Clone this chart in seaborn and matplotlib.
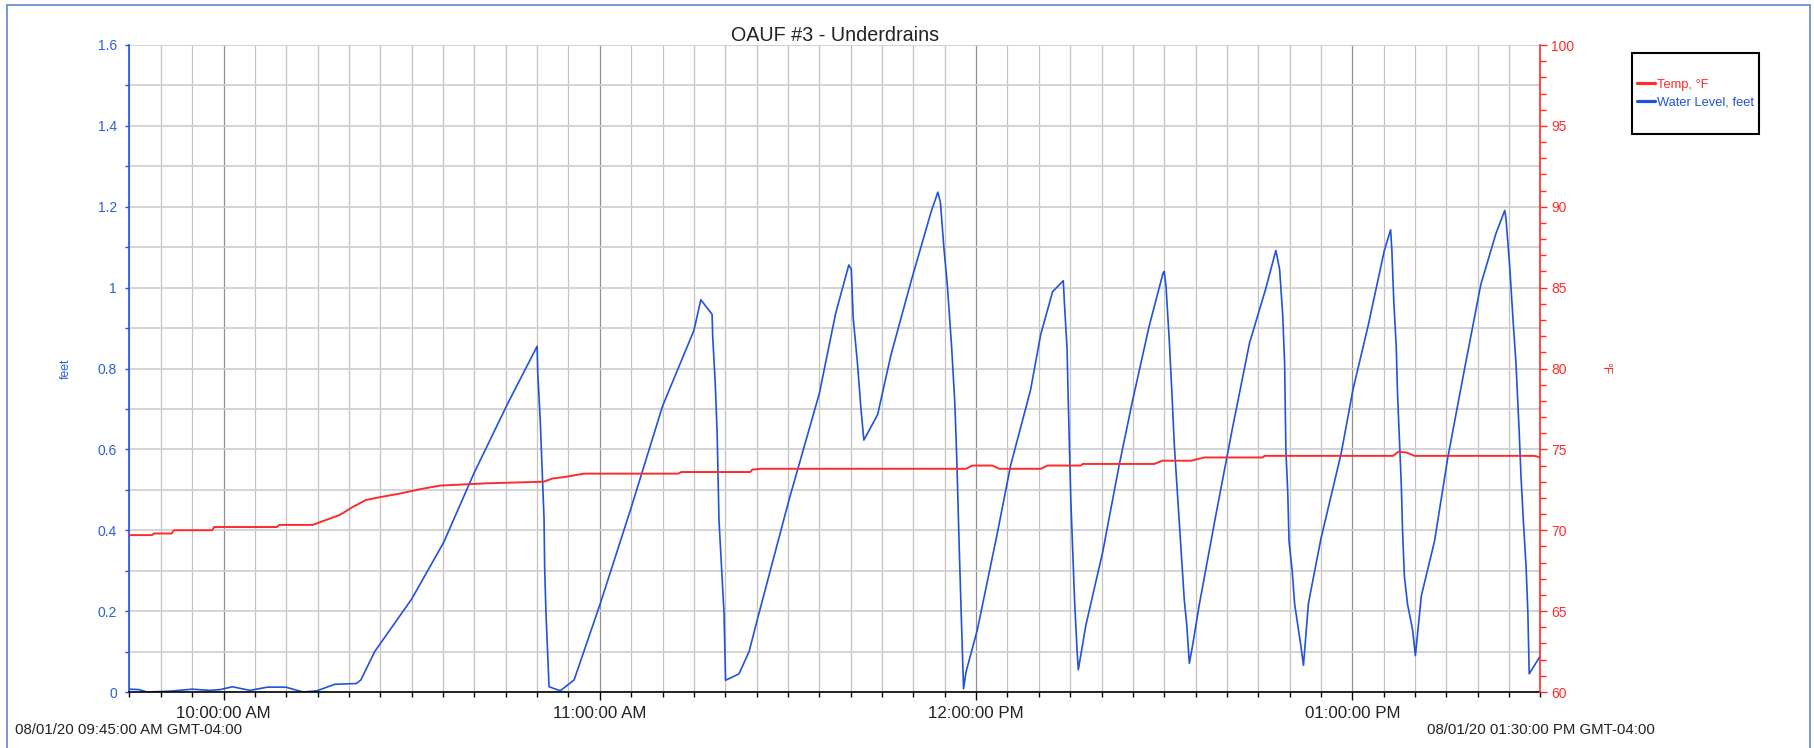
import matplotlib
matplotlib.use("Agg")
import matplotlib.pyplot as plt
import numpy as np
import pandas as pd
import seaborn as sns
from matplotlib.lines import Line2D
from matplotlib.patches import Rectangle
from matplotlib.ticker import MultipleLocator, FixedLocator, FuncFormatter

# ---------------- data (minutes after 09:45) ----------------
water_min = [
    0, 1.5, 2.8, 6.4, 10, 12.8, 14.5, 16.4, 19.2, 22, 24.9, 27.7, 29.9, 32.7, 36.2, 36.9, 39.1,
    45, 50.1, 54.9, 60.2, 65.0,
    65.1, 65.5, 65.8, 66.1, 66.2, 66.4, 66.9,
    68.7, 70.9, 75.1, 80, 85, 90, 91.1, 92.9,
    93.0, 93.4, 93.7, 94.0, 94.4, 94.8, 95.05,
    97.2, 98.8, 100.4, 105.2, 110, 112.6, 114.7,
    115.1, 115.4, 116.1, 116.6, 117.1,
    119.3, 121.4, 124.6, 127.8, 128.9,
    129.3, 129.9, 130.4, 131.1, 131.6, 131.9, 132.3, 132.6, 133.0,
    133.4, 135.2, 138.4, 140.5, 143.7, 145.3, 147.2, 148.9,
    149.1, 149.5, 149.7, 149.9, 150.1, 150.4, 150.7, 151.1, 151.3,
    152.5, 155.2, 157.8, 159.9, 162.6, 164.8, 165.0,
    165.3, 165.8, 166.2, 166.6, 167.1, 167.7, 168.2, 168.6, 169.0,
    169.5, 170.6, 173.2, 175.9, 178.6, 181.2, 182.8,
    183.4, 183.9, 184.2, 184.4, 184.7, 184.9, 185.4, 185.8, 186.3, 186.8, 187.2,
    188.0, 190.0, 193.2, 195.1, 197.5, 200.1, 201.1,
    201.3, 201.6, 202.0, 202.2, 202.5, 202.8, 203.0, 203.3, 203.8, 204.6, 205.05,
    206.0, 208.1, 210.2, 212.9, 215.5, 217.9, 219.3,
    219.5, 220.1, 220.6, 221.1, 221.6, 221.9, 222.3, 222.7, 222.98, 223.2,
    225.0,
]
water_ft = [
    0.007, 0.006, 0.0, 0.002, 0.007, 0.004, 0.006, 0.013, 0.004, 0.012, 0.012, 0.0, 0.003, 0.019, 0.021, 0.03, 0.10,
    0.23, 0.37, 0.54, 0.71, 0.855,
    0.79, 0.67, 0.55, 0.43, 0.31, 0.20, 0.013,
    0.003, 0.03, 0.22, 0.456, 0.707, 0.894, 0.97, 0.934,
    0.879, 0.764, 0.644, 0.425, 0.31, 0.196, 0.029,
    0.045, 0.10, 0.196, 0.477, 0.738, 0.936, 1.056,
    1.045, 0.925, 0.81, 0.707, 0.623,
    0.686, 0.832, 1.014, 1.186, 1.236,
    1.212, 1.092, 1.009, 0.853, 0.717, 0.587, 0.363, 0.206, 0.008,
    0.05, 0.154, 0.394, 0.56, 0.748, 0.884, 0.99, 1.017,
    0.957, 0.85, 0.717, 0.597, 0.477, 0.352, 0.227, 0.102, 0.055,
    0.165, 0.347, 0.56, 0.717, 0.905, 1.035, 1.04,
    1.0, 0.87, 0.748, 0.613, 0.493, 0.352, 0.227, 0.165, 0.071,
    0.113, 0.217, 0.435, 0.654, 0.863, 0.998, 1.092,
    1.045, 0.93, 0.81, 0.597, 0.493, 0.373, 0.30, 0.217, 0.165, 0.113, 0.066,
    0.22, 0.38, 0.589, 0.748, 0.905, 1.092, 1.143,
    1.092, 0.967, 0.852, 0.738, 0.623, 0.514, 0.40, 0.285, 0.217, 0.154, 0.09,
    0.238, 0.373, 0.578, 0.80, 1.009, 1.134, 1.191,
    1.17, 1.05, 0.925, 0.81, 0.644, 0.53, 0.415, 0.31, 0.20, 0.045,
    0.09,
]

temp_min = [0, 3.6, 3.9, 6.7, 7.1, 13.2, 13.5, 23.5, 23.9, 29.2,
            31.3, 33.5, 35.6, 37.7, 40, 43, 46.5, 49.5, 56.9, 66,
            67.5, 69.5, 72.5, 87.5, 88, 99, 99.3, 100.7, 133.4, 134.4,
            137.6, 138.7, 145.3, 146.4, 151.7, 152, 163.4, 164.7, 169.3, 171.4,
            180.7, 181, 201.5, 202.3, 203.7, 204.9, 224, 225]
temp_f = [69.7, 69.7, 69.8, 69.8, 70.0, 70.0, 70.2, 70.2, 70.33, 70.33,
          70.63, 70.94, 71.44, 71.87, 72.05, 72.26, 72.55, 72.76, 72.9, 73.0,
          73.2, 73.3, 73.5, 73.5, 73.6, 73.6, 73.75, 73.8, 73.8, 74.0,
          74.0, 73.8, 73.8, 74.0, 74.0, 74.1, 74.1, 74.3, 74.3, 74.5,
          74.5, 74.6, 74.6, 74.85, 74.8, 74.6, 74.6, 74.5]

hour_tick_min = [15, 75, 135, 195]
hour_tick_labels = ["10:00:00 AM", "11:00:00 AM", "12:00:00 PM", "01:00:00 PM"]
start_label = "08/01/20 09:45:00 AM GMT-04:00"
end_label = "08/01/20 01:30:00 PM GMT-04:00"
title = "OAUF #3 - Underdrains"
series_labels = ["Temp, \u00b0F", "Water Level, feet"]

# ---------------- style ----------------
sns.set_style("white")
plt.rcParams['font.family'] = ['Liberation Sans', 'DejaVu Sans']

BLUE = "#2152dc"
LBLUE = "#2c5ee0"
RED = "#ff2a2a"

W, H = 1815, 748
fig = plt.figure(figsize=(W / 100, H / 100), dpi=100)
L, R, T, B = 129.5, 1540.5, 45, 692
ax = fig.add_axes([L / W, 1 - B / H, (R - L) / W, (B - T) / H])
ax2 = ax.twinx()

df_w = pd.DataFrame({"min": water_min, "ft": water_ft})
df_t = pd.DataFrame({"min": temp_min, "F": temp_f})
sns.lineplot(data=df_w, x="min", y="ft", ax=ax, color=BLUE, lw=1.2, estimator=None, legend=False)
sns.lineplot(data=df_t, x="min", y="F", ax=ax2, color=RED, lw=1.4, estimator=None, legend=False)

ax.set_xlim(0, 225)
ax.set_ylim(0, 1.6)
ax2.set_ylim(60, 100)

# x axis
ax.xaxis.set_major_locator(FixedLocator(hour_tick_min))
ax.xaxis.set_minor_locator(MultipleLocator(5))
ax.set_xticklabels(hour_tick_labels)
ax.tick_params(axis="x", which="major", bottom=True, direction="out", length=5.8, width=1.0,
               color="black", labelsize=12.2, labelcolor="#222222", pad=4.0)
ax.tick_params(axis="x", which="minor", bottom=True, direction="out", length=3.4, width=1.0, color="black")

# left y axis
ax.yaxis.set_major_locator(MultipleLocator(0.2))
ax.yaxis.set_minor_locator(MultipleLocator(0.1))
ax.yaxis.set_major_formatter(FuncFormatter(lambda v, p: f"{v:g}"))
ax.tick_params(axis="y", which="both", left=True, direction="out", length=3.2, width=1.0,
               color=BLUE, labelcolor=LBLUE, labelsize=10, pad=5.8)

# grid
ax.grid(which="major", axis="x", color="#8f8f8f", lw=0.9)
ax.grid(which="minor", axis="x", color="#c2c2c2", lw=0.9)
ax.grid(which="both", axis="y", color="#d0d0d0", lw=1.3)
ax.set_axisbelow(True)

# right y axis
ax2.yaxis.set_major_locator(MultipleLocator(5))
ax2.yaxis.set_minor_locator(MultipleLocator(1))
ax2.tick_params(axis="y", which="major", right=True, direction="out", length=5, width=1.0,
                color=RED, labelcolor=RED, labelsize=10, pad=2.9)
ax2.tick_params(axis="y", which="minor", right=True, direction="out", length=4.3, width=1.0, color=RED)
ax2.grid(False)

# spines
for s in ["top", "right"]:
    ax.spines[s].set_visible(False)
ax.spines["left"].set_color(BLUE)
ax.spines["left"].set_linewidth(1.2)
ax.spines["bottom"].set_color("black")
ax.spines["bottom"].set_linewidth(1.2)
for s in ["top", "left", "bottom"]:
    ax2.spines[s].set_visible(False)
ax2.spines["right"].set_color(RED)
ax2.spines["right"].set_linewidth(1.2)

# axis labels
ax.set_xlabel("")
ax.set_ylabel("feet", color=LBLUE, fontsize=8.8)
ax.yaxis.set_label_coords((72 - L) / (R - L), 0.5)
ax2.set_ylabel("\u00b0F", color=RED, fontsize=8.8, rotation=270, va="center")
ax2.yaxis.set_label_coords((1605 - L) / (R - L), 0.5)

# title and corner labels
fig.text(835 / W, 1 - 35.5 / H, title, ha="center", va="center", fontsize=14.2, color="#222222")
fig.text(14.7 / W, 1 - 730.5 / H, start_label, ha="left", va="center", fontsize=10.8, color="#222222")
fig.text(1655 / W, 1 - 730.5 / H, end_label, ha="right", va="center", fontsize=10.8, color="#222222")

# legend
bx0, bx1, by0, by1 = 1632, 1759, 53, 134
handles = [Line2D([], [], color=RED, lw=2.3), Line2D([], [], color=BLUE, lw=2.3)]
leg = fig.legend(handles, series_labels, loc="center",
                 bbox_to_anchor=((bx0 + bx1) / 2 / W, 1 - (by0 + by1) / 2 / H),
                 frameon=False, handlelength=1.4, handletextpad=0.22,
                 labelspacing=0.42, fontsize=9.3, labelcolor="linecolor")
fig.add_artist(Rectangle((bx0 / W, 1 - by1 / H), (bx1 - bx0) / W, (by1 - by0) / H,
                         transform=fig.transFigure, fill=False, ec="black", lw=1.5))

# outer border
fig.add_artist(Rectangle((7 / W, -0.02), (1810 - 7) / W, (748 - 5) / H + 0.02,
                         transform=fig.transFigure, fill=False, ec="#6a90d4", lw=1.3, clip_on=False))

fig.savefig("out.png", dpi=100)
